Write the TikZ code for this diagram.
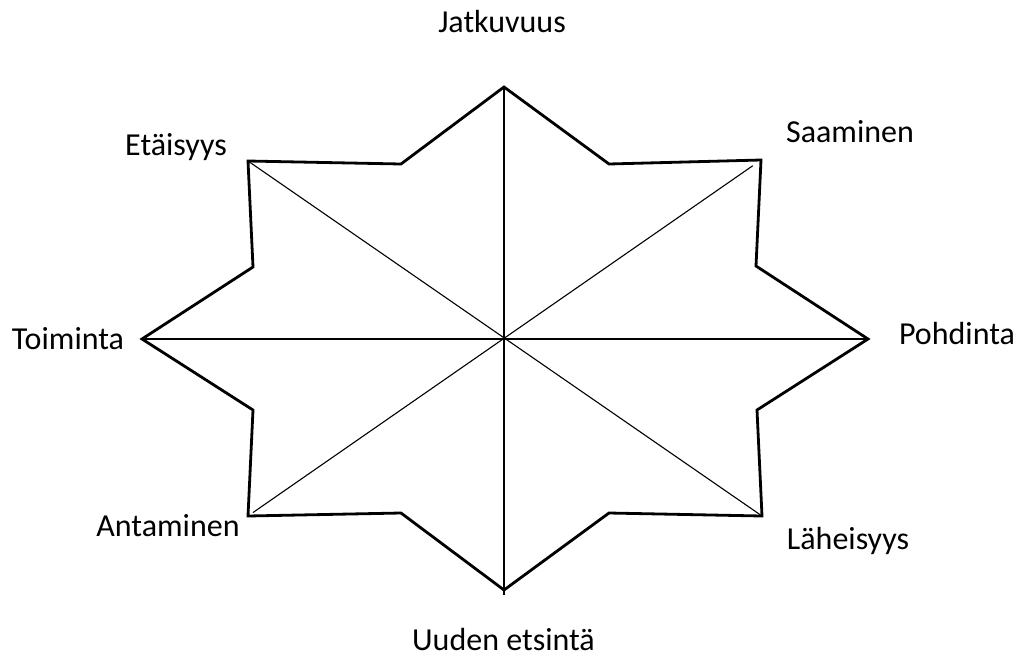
\documentclass[tikz,border=0pt]{standalone}
\usepackage{fontspec}
\setmainfont{Carlito}
\usepackage{tikz}
\usetikzlibrary{calc}

\begin{document}
\begin{tikzpicture}[x=1pt, y=-1pt,
    label/.style={anchor=base, inner sep=0pt, font=\fontsize{32}{36}\selectfont}]
    \useasboundingbox (0,0) rectangle (1016,659);

    \coordinate (O) at (504,339);
    \coordinate (T) at (504,87);
    \coordinate (TRi) at (609,164);
    \coordinate (TR) at (761,160);
    \coordinate (Ri) at (756,266);
    \coordinate (R) at (868,339);
    \coordinate (BRi) at (757,410);
    \coordinate (BR) at (762,516);
    \coordinate (Bri) at (609,513);
    \coordinate (B) at (504,590);
    \coordinate (Bli) at (401,513);
    \coordinate (BL) at (248,516);
    \coordinate (BLi) at (253,410);
    \coordinate (L) at (142,339);
    \coordinate (TLi) at (253,267);
    \coordinate (TL) at (248,161);
    \coordinate (Tli) at (401,164);
    \coordinate (Bend) at (504,595);

    % tähden ääriviiva
    \draw[line width=2.8pt, line join=miter] (T) -- (TRi) -- (TR) -- (Ri) -- (R) -- (BRi) -- (BR) -- (Bri)
        -- (B) -- (Bli) -- (BL) -- (BLi) -- (L) -- (TLi) -- (TL) -- (Tli) -- cycle;

    % lävistäjät keskipisteen kautta
    \draw[line width=1.1pt] (T) -- (Bend);
    \draw[line width=1.1pt] (L) -- (R);
    \draw[line width=1.1pt] (TL) -- (BR);
    \draw[line width=1.1pt, shorten <=6pt, shorten >=10pt] (BL) -- (TR);

    \node[label] (jatkuvuus) at (502,32) {Jatkuvuus};
    \node[label] (saaminen) at (850,142.5) {Saaminen};
    \node[label] (pohdinta) at (957,344) {Pohdinta};
    \node[label] (laheisyys) at (848,549) {Läheisyys};
    \node[label, text depth=0pt] (uuden) at (503.5,650) {Uuden etsintä};
    \node[label] (antaminen) at (168,536) {Antaminen};
    \node[label] (toiminta) at (68,349) {Toiminta};
    \node[label] (etaisyys) at (176,155) {Etäisyys};
\end{tikzpicture}
\end{document}
